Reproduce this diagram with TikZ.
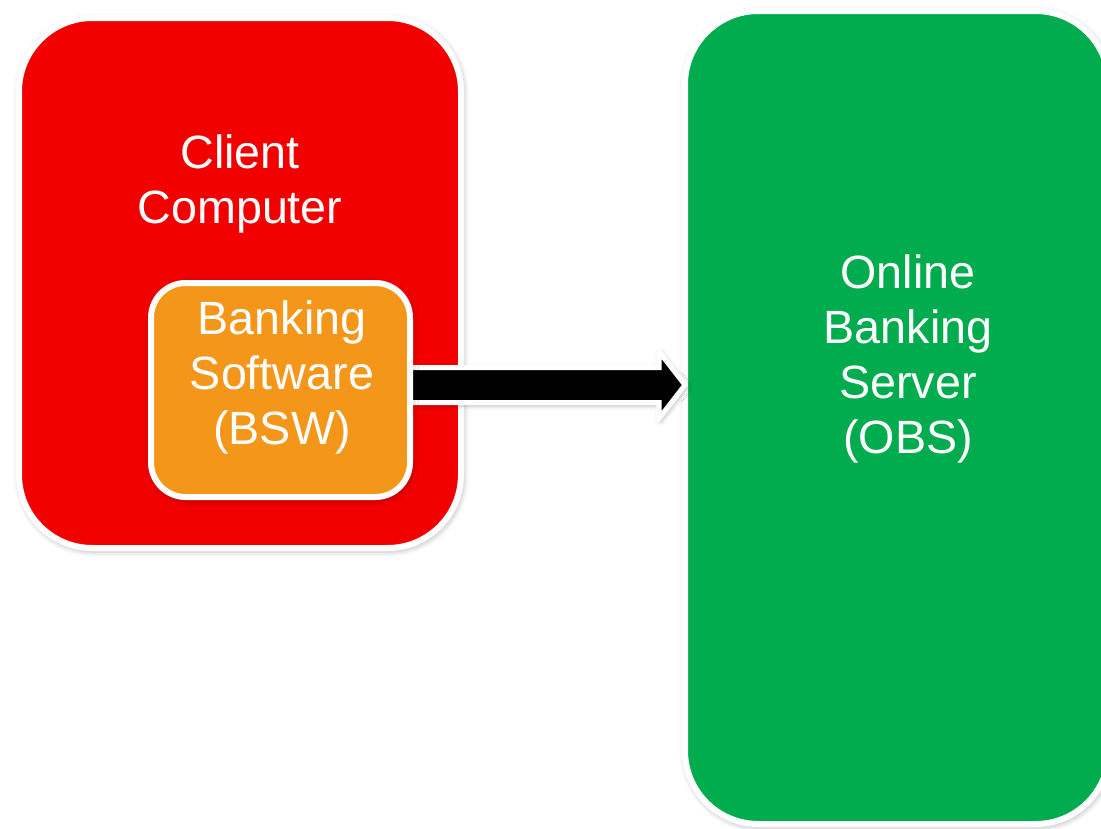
\documentclass[tikz,border=0pt]{standalone}
\usepackage{fontspec}
\setmainfont{Liberation Sans}
\usetikzlibrary{calc,shadows.blur}
\definecolor{clientred}{RGB}{242,0,0}
\definecolor{bsworange}{RGB}{243,150,25}
\definecolor{obsgreen}{RGB}{0,172,78}
\begin{document}
\begin{tikzpicture}[x=0.75pt,y=-0.75pt,
  panel/.style={rectangle, draw=white, line width=4.5pt, inner sep=0pt,
    blur shadow={shadow xshift=1pt, shadow yshift=-1.5pt,
      shadow blur radius=5pt, shadow opacity=40}},
  boxtext/.style={text=white, align=center, inner sep=0pt, anchor=north,
    font=\fontsize{35}{41.25}\selectfont},
  flowarrow/.style={draw=white, fill=black, line width=3.75pt, line join=miter,
    blur shadow={shadow xshift=1pt, shadow yshift=-1.5pt,
      shadow blur radius=4pt, shadow opacity=40}}
]
\useasboundingbox (0,0) rectangle (1101,829);

% client computer panel
\node[panel, fill=clientred, minimum width=331.5pt, minimum height=397.5pt,
  rounded corners=55pt] (client) at (240,283) {};

% online banking server panel (runs past the right margin)
\node[panel, fill=obsgreen, minimum width=318pt, minimum height=609.75pt,
  rounded corners=55pt] (obs) at (897,417.5) {};

% invisible frame of the banking software box, so the arrow can start at it
\node[rectangle, inner sep=0pt, line width=4.5pt, minimum width=194.25pt,
  minimum height=160.5pt] (bswframe) at (280.5,390) {};

% block arrow from the banking software to the server
\coordinate (as) at ($(bswframe.east)+(-12,-5)$);
\coordinate (at) at ($(obs.west |- as)+(3,0)$);
\path[flowarrow] ($(as)+(0,-17.5)$) -- ($(at)+(-26,-17.5)$) -- ($(at)+(-26,-33.5)$)
  -- (at) -- ($(at)+(-26,33.5)$) -- ($(at)+(-26,17.5)$) -- ($(as)+(0,17.5)$) -- cycle;

% banking software box drawn over the arrow's tail
\node[panel, fill=bsworange, minimum width=194.25pt, minimum height=160.5pt,
  rounded corners=26pt] (bsw) at (bswframe) {};

% labels
\node[boxtext] (clienttext) at (240,134) {Client\\Computer};
\node[boxtext] (bswtext) at (282,300) {Banking\\Software\\(BSW)};
\node[boxtext] (obstext) at (908,254) {Online\\Banking\\Server\\(OBS)};
\end{tikzpicture}
\end{document}
